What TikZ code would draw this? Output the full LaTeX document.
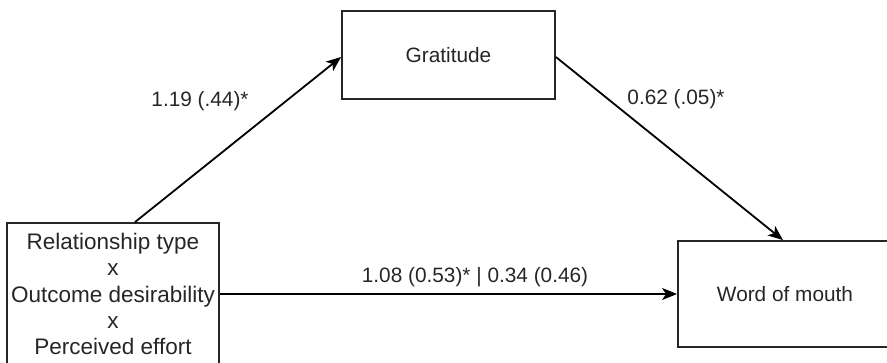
\documentclass[tikz,border=0pt]{standalone}
\usepackage{fontspec}
\setmainfont{Liberation Sans}
\usetikzlibrary{arrows.meta}
\begin{document}
\begin{tikzpicture}[x=1pt,y=-1pt,
  box/.style={draw=black!85, line width=1.8pt, rectangle, inner sep=0pt, align=center},
  lab/.style={font=\fontsize{20.8}{24}\selectfont, text=black!85, inner sep=0pt},
  conn/.style={line width=1.8pt, -{Stealth[length=15pt,width=12pt,inset=4pt]}}
]
\clip (0,0) rectangle (887,363);
\useasboundingbox (0,0) rectangle (887,363);
\node[box, minimum width=212pt, minimum height=142pt, font=\fontsize{22.5}{26.3}\selectfont, text=black!85] (lb) at (113,294)
  {Relationship type\\x\\Outcome desirability\\x\\Perceived effort};
\node[box, minimum width=213pt, minimum height=88pt, font=\fontsize{20.8}{24}\selectfont, text=black!85] (gr) at (448.5,55) {Gratitude};
\node[box, minimum width=214pt, minimum height=106pt, font=\fontsize{20.8}{24}\selectfont, text=black!85] (wm) at (785,294) {Word of mouth};
\coordinate (lbtop) at ([xshift=22pt]lb.north);
\coordinate (grin) at ([yshift=-2pt]gr.west);
\coordinate (grout) at ([yshift=-2pt]gr.east);
\coordinate (wmtop) at ([xshift=-2pt]wm.north);
\draw[conn] (lbtop) -- (grin);
\draw[conn] (grout) -- (wmtop);
\draw[conn] (lb.east) -- (wm.west);
\node[lab] (l1) at (200,101) {1.19 (.44)*};
\node[lab] (l2) at (676,99) {0.62 (.05)*};
\node[lab] (l3) at (475,277) {1.08 (0.53)* | 0.34 (0.46)};
\end{tikzpicture}
\end{document}
